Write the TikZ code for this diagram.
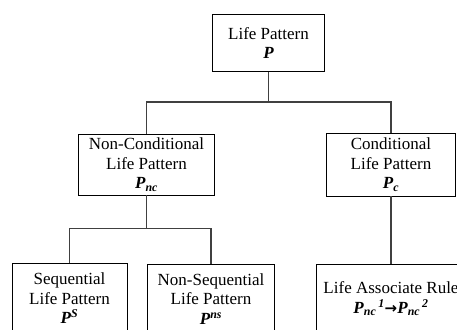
\documentclass[tikz,border=0pt]{standalone}
\usepackage{fontspec}
\setmainfont{Liberation Serif}
\newfontfamily\arrowfont{DejaVu Sans}
\begin{document}
\begin{tikzpicture}[x=1pt,y=-1pt,
  box/.style={draw=black, line width=0.8pt, fill=white, align=center, inner sep=0pt,
    font=\fontsize{17}{19.5}\selectfont},
  conn/.style={draw=black!75, line width=1.3pt}]
\useasboundingbox (0,0) rectangle (457,329);
\clip (0,0) rectangle (457,329);
\newcommand{\bP}{\textbf{\textit{P}}}
\newcommand{\sbs}[1]{\textsubscript{\textbf{\textit{#1}}}}
\newcommand{\sps}[1]{\textsuperscript{\textbf{\textit{#1}}}}
\node[box, minimum width=111.6pt, minimum height=57.7pt] (top) at (268.5,42.8) {Life Pattern\\ \bP};
\node[box, minimum width=136pt, minimum height=61pt] (nc) at (146.5,164.5) {Non-Conditional\\ Life Pattern\\ \bP\sbs{nc}};
\node[box, minimum width=129.7pt, minimum height=62.7pt] (c) at (391,164.7) {Conditional\\ Life Pattern\\ \bP\sbs{c}};
\node[box, minimum width=115pt, minimum height=70pt] (s) at (69.5,298.5) {Sequential\\ Life Pattern\\ \bP\sps{S}};
\node[box, minimum width=127pt, minimum height=70pt] (ns) at (211,299) {Non-Sequential\\ Life Pattern\\ \bP\sps{ns}};
\node[box, minimum width=148.6pt, minimum height=70pt] (r) at (391,299) {Life Associate Rule\\ \bP\sbs{nc}\sps{\,1}{\arrowfont\bfseries\fontsize{15}{15}\selectfont →}\bP\sbs{nc}\sps{\,2}};
\draw[conn] (top.south) -- ++(0,30) coordinate (j1);
\draw[conn] (j1) -| (nc.north);
\draw[conn] (j1) -| (c.north);
\draw[conn] (nc.south) -- ++(0,33.3) coordinate (j2);
\draw[conn] (j2) -| (s.north);
\draw[conn] (j2) -| (ns.north);
\draw[conn] (c.south) -- (r.north);
\end{tikzpicture}
\end{document}
